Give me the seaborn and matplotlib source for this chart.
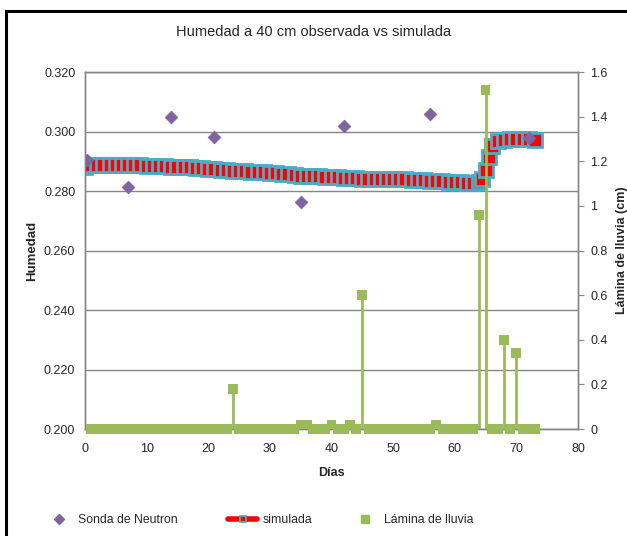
import matplotlib
matplotlib.use("Agg")
import matplotlib.pyplot as plt
import seaborn as sns
import numpy as np
import pandas as pd
from matplotlib.lines import Line2D
from matplotlib.patches import Rectangle
from matplotlib.ticker import FuncFormatter

# observed soil moisture (neutron probe)
neutron_day = [0.3, 7, 14, 21, 35, 42, 56, 72]
neutron_hum = [0.2905, 0.2815, 0.3050, 0.2983, 0.2764, 0.3017, 0.3060, 0.2977]

# simulated soil moisture
sim_day = list(range(0, 64)) + [64, 64.5, 65, 65.5, 66, 67, 68, 69, 70, 71, 72, 73]
sim_hum = [0.2880, 0.2886, 0.2887, 0.2887, 0.2887, 0.2887, 0.2886, 0.2886, 0.2886, 0.2886,
           0.2885, 0.2885, 0.2884, 0.2883, 0.2882, 0.2881, 0.2880, 0.2879, 0.2878, 0.2876,
           0.2875, 0.2874, 0.2872, 0.2870, 0.2868, 0.2867, 0.2866, 0.2865, 0.2864, 0.2863,
           0.2862, 0.2860, 0.2858, 0.2856, 0.2854, 0.2852, 0.2851, 0.2850, 0.2849, 0.2848,
           0.2847, 0.2846, 0.2845, 0.2844, 0.2843, 0.2842, 0.2841, 0.2841, 0.2840, 0.2840,
           0.2840, 0.2840, 0.2839, 0.2838, 0.2837, 0.2836, 0.2835, 0.2834, 0.2833, 0.2831,
           0.2830, 0.2829, 0.2828, 0.2828,
           0.2830, 0.2840, 0.2870, 0.2915, 0.2950, 0.2968, 0.2973, 0.2975, 0.2976, 0.2976,
           0.2976, 0.2972]

# rainfall depth (cm), days 1..73
rain_day = list(range(1, 74))
rain_cm = [0, 0, 0, 0, 0, 0, 0, 0, 0, 0,
           0, 0, 0, 0, 0, 0, 0, 0, 0, 0,
           0, 0, 0, 0.18, 0, 0, 0, 0, 0, 0,
           0, 0, 0, 0, 0.02, 0.02, 0, 0, 0, 0.02,
           0, 0, 0.02, 0, 0.60, 0, 0, 0, 0, 0,
           0, 0, 0, 0, 0, 0, 0.02, 0, 0, 0,
           0, 0, 0, 0.96, 1.52, 0, 0, 0.40, 0, 0.34,
           0, 0, 0]

sim = pd.DataFrame({"dia": sim_day, "hum": sim_hum})
obs = pd.DataFrame({"dia": neutron_day, "hum": neutron_hum})
rain = pd.DataFrame({"dia": rain_day, "cm": rain_cm})

sns.set_style("white")
plt.rcParams["font.family"] = ["Liberation Sans", "DejaVu Sans"]

purple = "#8064A2"
green = "#9BBB59"
aqua = "#4BACC6"
gridc = "#868686"

fig = plt.figure(figsize=(6.27, 5.36), dpi=100)
ax = fig.add_axes([85 / 627, 1 - 429 / 536, 493 / 627, 357 / 536])
ax2 = ax.twinx()

# simulated: red line with aqua-edged red squares
sns.lineplot(data=sim, x="dia", y="hum", ax=ax, color="red", lw=3, marker="s",
             markersize=9.5, markerfacecolor="red", markeredgecolor=aqua,
             markeredgewidth=2.0, zorder=3)
sns.scatterplot(data=obs, x="dia", y="hum", ax=ax, marker="D", s=42, color=purple,
                edgecolor=purple, zorder=4)

# rainfall stems
ax2.vlines(rain["dia"], 0, rain["cm"], color=green, lw=2.0, zorder=2)
sns.scatterplot(data=rain, x="dia", y="cm", ax=ax2, marker="s", s=50, color=green,
                edgecolor="none", zorder=3, clip_on=False)

ax.set_xlim(0, 80)
ax.set_ylim(0.200, 0.320)
ax2.set_ylim(0, 1.6)
ax.set_xticks(range(0, 81, 10))
ax.set_yticks(np.arange(0.200, 0.3201, 0.020))
ax2.set_yticks(np.arange(0, 1.601, 0.2))
ax.yaxis.set_major_formatter(FuncFormatter(lambda v, p: f"{v:.3f}"))
ax2.yaxis.set_major_formatter(FuncFormatter(lambda v, p: f"{v:g}"))

ax.grid(axis="y", color=gridc, lw=1)
ax.set_axisbelow(True)
for a in (ax, ax2):
    for s in a.spines.values():
        s.set_color(gridc)
        s.set_linewidth(1)
ax.tick_params(axis="y", length=0, labelsize=9, pad=7)
ax.tick_params(axis="x", length=0, labelsize=9, pad=10)
ax2.tick_params(axis="y", length=4, color=gridc, labelsize=9, pad=5)

ax.set_xlabel("Días", fontsize=9, fontweight="bold", labelpad=9)
ax.set_ylabel("Humedad", fontsize=9.5, fontweight="bold", labelpad=4)
ax2.set_ylabel("Lámina de lluvia (cm)", fontsize=9, fontweight="bold", labelpad=6)

fig.text(0.5, 1 - 32 / 536, "Humedad a 40 cm observada vs simulada", ha="center",
         va="center", fontsize=10.5)

# legend entries placed separately like the original
h1 = Line2D([], [], ls="none", marker="D", ms=5, color=purple)
h2 = Line2D([], [], color="red", lw=4, marker="s", ms=5, markerfacecolor="red",
            markeredgecolor=aqua, markeredgewidth=1.2)
h3 = Line2D([], [], ls="none", marker="s", ms=6, color=green)
ly = 1 - 520 / 536
for h, lab, x0 in [(h1, "Sonda de Neutron", 44 / 627), (h2, "simulada", 228 / 627),
                   (h3, "Lámina de lluvia", 350 / 627)]:
    fig.legend(handles=[h], labels=[lab], loc="center left", bbox_to_anchor=(x0, ly),
               frameon=False, fontsize=8.8, handlelength=2.4, handletextpad=0.4,
               borderaxespad=0, borderpad=0)

fig.patches.append(Rectangle((6 / 627, -0.2), 2, 1.2 - 11 / 536, transform=fig.transFigure,
                             fill=False, ec="black", lw=2.2, clip_on=False))

fig.savefig("out.png", dpi=100)
